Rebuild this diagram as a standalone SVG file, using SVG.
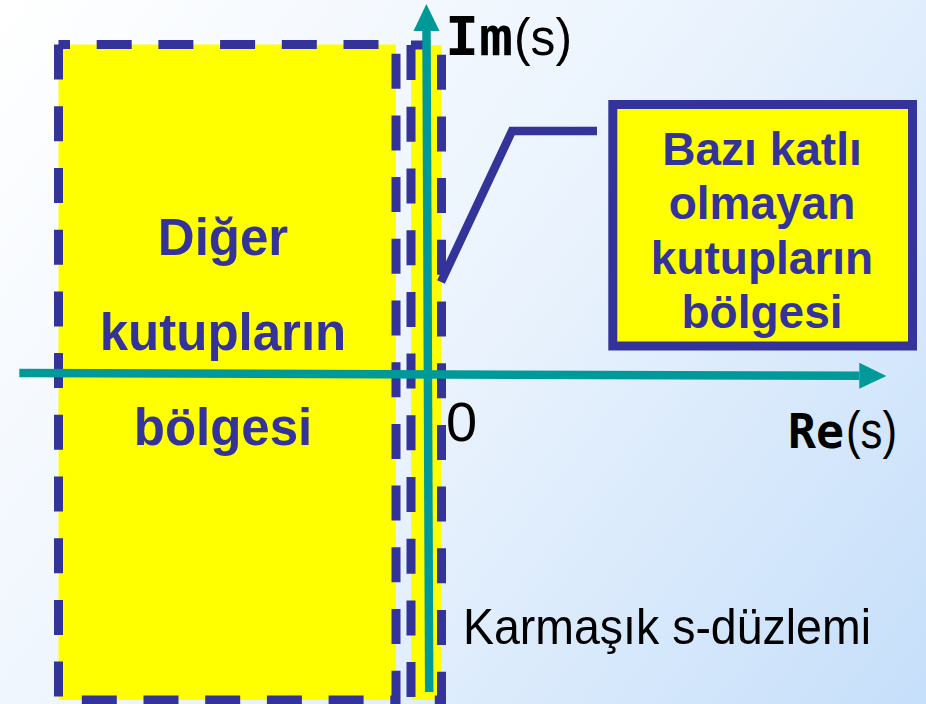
<svg xmlns="http://www.w3.org/2000/svg" width="926" height="704" viewBox="0 0 926 704">
  <defs>
    <linearGradient id="bg" gradientUnits="userSpaceOnUse" x1="0" y1="0" x2="926" y2="704">
      <stop offset="0" stop-color="#ffffff"/>
      <stop offset="0.5" stop-color="#eaf3fd"/>
      <stop offset="1" stop-color="#c6dffa"/>
    </linearGradient>
    <marker id="arrow" markerUnits="userSpaceOnUse" markerWidth="28" markerHeight="27" refX="0" refY="13" orient="auto" viewBox="0 0 28 26">
      <path d="M0,0 L27,13 L0,26 Z" fill="#009999"/>
    </marker>
    <style>
      .region { fill: #ffff00; stroke: #333399; stroke-width: 9; stroke-dasharray: 35 26.7; }
      .axis { stroke: #009999; stroke-width: 8.5; fill: none; marker-end: url(#arrow); }
      .conn { stroke: #333399; stroke-width: 8.5; fill: none; stroke-linejoin: miter; }
      .lbl { font-family: "Liberation Sans", Arial, sans-serif; font-weight: bold; fill: #333399; text-anchor: middle; }
      .ax { font-family: "DejaVu Sans Mono", monospace; font-weight: bold; fill: #000000; }
      .plain { font-family: "Liberation Sans", Arial, sans-serif; fill: #000000; }
    </style>
  </defs>
  <rect x="0" y="0" width="926" height="704" fill="url(#bg)"/>

  <g id="other-poles">
    <rect class="region" x="58.5" y="44.5" width="337.5" height="655.5" stroke-dashoffset="23.5"/>
    <text class="lbl" font-size="51" x="223" y="255">Diğer</text>
    <text class="lbl" font-size="51" x="223" y="350">kutupların</text>
    <text class="lbl" font-size="51" x="223" y="445">bölgesi</text>
  </g>

  <g id="near-axis-strip">
    <rect class="region" x="411" y="45" width="30.5" height="655" stroke-dashoffset="21.5"/>
  </g>

  <g id="connectors">
    <line class="axis" x1="19.3" y1="373" x2="859.3" y2="375.8"/>
    <line class="axis" x1="429.2" y1="692" x2="426.5" y2="31"/>
    <polyline class="conn" points="441,282 512,131 597,131"/>
  </g>

  <g id="non-multiple-poles">
    <rect x="612.8" y="104.5" width="299.7" height="241.5" fill="#ffff00" stroke="#333399" stroke-width="9"/>
    <text class="lbl" font-size="46" x="762" y="165">Bazı katlı</text>
    <text class="lbl" font-size="46" x="762" y="219">olmayan</text>
    <text class="lbl" font-size="46" x="762" y="273.5">kutupların</text>
    <text class="lbl" font-size="46" x="762" y="328">bölgesi</text>
  </g>

  <g id="labels">
    <text class="ax" font-size="54" x="445" y="55" textLength="68" lengthAdjust="spacingAndGlyphs">Im</text>
    <text class="plain" font-size="52" x="514" y="55" textLength="58" lengthAdjust="spacingAndGlyphs">(s)</text>
    <text class="ax" font-size="48" x="788" y="448" textLength="56" lengthAdjust="spacingAndGlyphs">Re</text>
    <text class="plain" font-size="52" x="846" y="448" textLength="51" lengthAdjust="spacingAndGlyphs">(s)</text>
    <text class="plain" font-size="56" x="446" y="441">0</text>
    <text class="plain" font-size="50" x="463" y="644" textLength="408" lengthAdjust="spacingAndGlyphs">Karmaşık s-düzlemi</text>
  </g>
</svg>
